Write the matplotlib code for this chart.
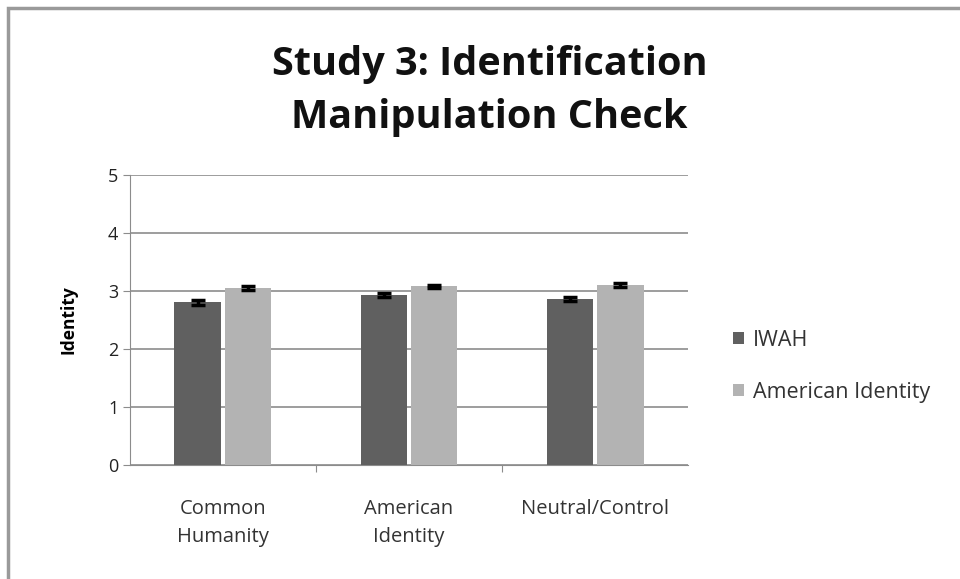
import numpy as np
import matplotlib.pyplot as plt
from matplotlib.patches import Rectangle

categories = ['Common\nHumanity', 'American\nIdentity', 'Neutral/Control']
series_names = ['IWAH', 'American Identity']
iwah = [2.80, 2.93, 2.86]
american = [3.05, 3.08, 3.10]
iwah_err = [0.04, 0.04, 0.04]
american_err = [0.03, 0.03, 0.03]
y_ticks = [0, 1, 2, 3, 4, 5]

plt.rcParams['font.family'] = ['Open Sans', 'DejaVu Sans']

fig = plt.figure(figsize=(9.6, 5.79), dpi=100)
fig.patches.append(Rectangle((0.008, -0.01), 1.0, 0.997, transform=fig.transFigure,
                             fill=False, edgecolor='#9a9a9a', linewidth=2.5))
ax = fig.add_axes([0.135, 0.197, 0.582, 0.501])

x = np.arange(len(categories))
w = 0.25
ax.bar(x - 0.135, iwah, w, color='#606060', label=series_names[0], zorder=3)
ax.bar(x + 0.135, american, w, color='#b3b3b3', label=series_names[1], zorder=3)
ax.errorbar(x - 0.135, iwah, yerr=iwah_err, fmt='none', ecolor='black',
            elinewidth=2.5, capsize=5, capthick=2.5, zorder=4)
ax.errorbar(x + 0.135, american, yerr=american_err, fmt='none', ecolor='black',
            elinewidth=2.5, capsize=5, capthick=2.5, zorder=4)

ax.set_xlim(-0.5, 2.5)
ax.set_ylim(0, 5)
ax.set_yticks(y_ticks)
ax.yaxis.grid(True, color='#8c8c8c', linewidth=1.2, zorder=0)
for s in ['top', 'right']:
    ax.spines[s].set_visible(False)
ax.spines['left'].set_color('#8c8c8c')
ax.spines['bottom'].set_color('#8c8c8c')
ax.tick_params(axis='y', length=5, color='#8c8c8c', labelsize=13, pad=3,
               labelcolor='#222222')

ax.set_xticks([0.5, 1.5])
ax.set_xticklabels(['', ''])
ax.tick_params(axis='x', length=5, color='#8c8c8c')
for i, c in enumerate(categories):
    ax.text(i, -0.58, c, ha='center', va='top', fontsize=14.5, color='#333333',
            linespacing=1.55, transform=ax.transData)

ax.set_ylabel('Identity', fontsize=12.5, fontweight='bold', labelpad=22)

fig.text(0.51, 0.843, 'Study 3: Identification\nManipulation Check', ha='center',
         va='center', fontsize=28.5, fontweight='bold', linespacing=1.45, color='#111111')

ax.legend(loc='center left', bbox_to_anchor=(1.045, 0.34), frameon=False,
          fontsize=15.5, handlelength=0.5, handleheight=0.5, labelspacing=1.45,
          handletextpad=0.45, labelcolor='#333333')

fig.savefig('out.png', dpi=100, facecolor='white')
